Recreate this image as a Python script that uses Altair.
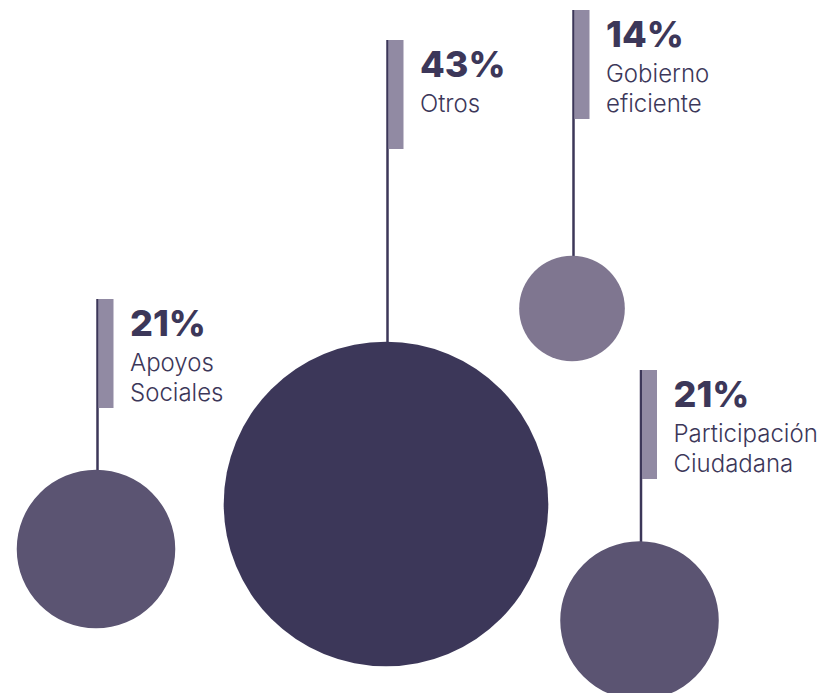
import altair as alt
import pandas as pd

# ---- data ----
categories = ["Otros", "Gobierno eficiente", "Apoyos Sociales", "Participación Ciudadana"]
values = [43, 14, 21, 21]
label_line1 = ["Otros", "Gobierno", "Apoyos", "Participación"]
label_line2 = ["", "eficiente", "Sociales", "Ciudadana"]

# ---- layout (page coordinates) ----
center_x = [386, 572, 96, 639.5]
center_y = [502, 306.5, 547, 618.5]
pin_top = [38, 8, 297, 368]
colors = ["#3c3759", "#7f7690", "#5b5472", "#5b5472"]

W, H = 811, 677
Y0 = 8
df = pd.DataFrame({
    "cat": categories,
    "value": values,
    "l1": label_line1,
    "l2": label_line2,
    "cx": center_x,
    "cy": center_y,
    "top": pin_top,
})
df["pct"] = df["value"].astype(str) + "%"
df["line_x"] = df["cx"] + 1.5
df["bar_x"] = df["cx"] + 2.5
df["bar_x2"] = df["cx"] + 17.5
df["bar_y2"] = df["top"] + 109
df["text_x"] = df["cx"] + 34
df["pct_y"] = df["top"] + 37
df["l1_y"] = df["top"] + 72
df["l2_y"] = df["top"] + 102

xs = alt.Scale(domain=[8, 8 + W], nice=False, zero=False)
ys = alt.Scale(domain=[Y0, Y0 + H], nice=False, zero=False, reverse=True)

base = alt.Chart(df)

rule = base.mark_rule(color="#3c3759", strokeWidth=2.5).encode(
    x=alt.X("line_x:Q", scale=xs, axis=None),
    y=alt.Y("top:Q", scale=ys, axis=None),
    y2="cy:Q",
)

bar = base.mark_rect(color="#918aa3").encode(
    x=alt.X("bar_x:Q", scale=xs, axis=None),
    x2="bar_x2:Q",
    y=alt.Y("top:Q", scale=ys, axis=None),
    y2="bar_y2:Q",
)

r_max = 162.3
circles = base.mark_circle(opacity=1).encode(
    x=alt.X("cx:Q", scale=xs, axis=None),
    y=alt.Y("cy:Q", scale=ys, axis=None),
    size=alt.Size("value:Q", scale=alt.Scale(type="pow", exponent=2, domain=[0, 43],
                                              range=[0, (2 * r_max) ** 2], zero=True), legend=None),
    color=alt.Color("cat:N", scale=alt.Scale(domain=categories, range=colors), legend=None),
)

pct = base.mark_text(align="left", baseline="alphabetic", font="Inter", fontSize=36,
                     fontWeight=800, color="#3c3759").encode(
    x=alt.X("text_x:Q", scale=xs, axis=None),
    y=alt.Y("pct_y:Q", scale=ys, axis=None),
    text="pct:N",
)

lab1 = base.mark_text(align="left", baseline="alphabetic", font="Inter", fontSize=24,
                      fontWeight=300, color="#3c3759").encode(
    x=alt.X("text_x:Q", scale=xs, axis=None),
    y=alt.Y("l1_y:Q", scale=ys, axis=None),
    text="l1:N",
)

lab2 = base.mark_text(align="left", baseline="alphabetic", font="Inter", fontSize=24,
                      fontWeight=300, color="#3c3759").encode(
    x=alt.X("text_x:Q", scale=xs, axis=None),
    y=alt.Y("l2_y:Q", scale=ys, axis=None),
    text="l2:N",
)

chart = alt.layer(rule, bar, circles, pct, lab1, lab2).properties(
    width=W, height=H, padding=0
).configure_view(stroke=None)

chart.save("out.html", embed_options={"renderer": "svg", "actions": False})
